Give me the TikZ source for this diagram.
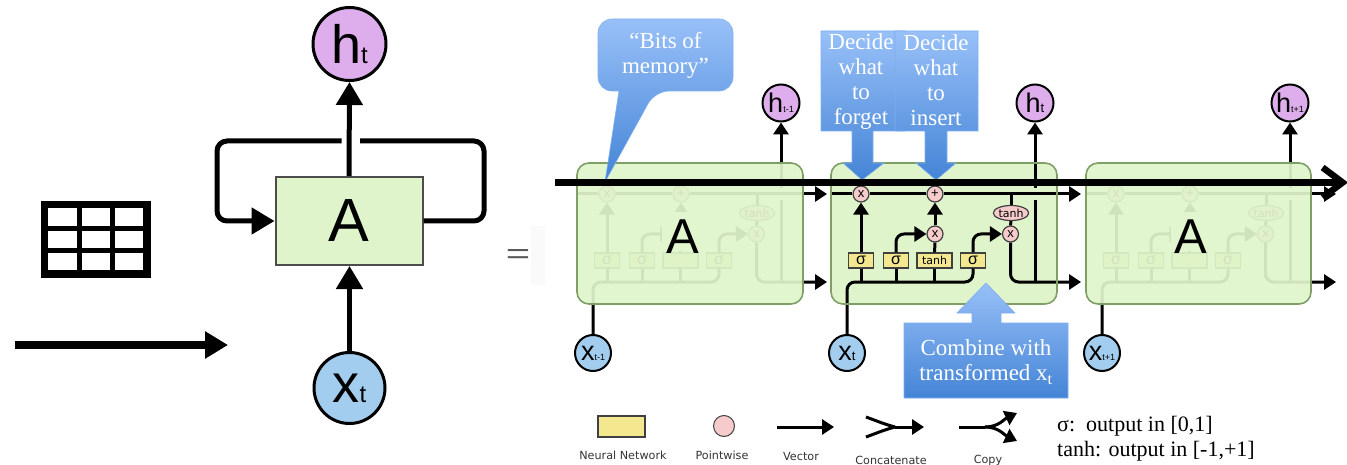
\documentclass[tikz,border=0pt]{standalone}
\usepackage{fontspec}
\setmainfont{Liberation Serif}
\setsansfont{Liberation Sans}
\newfontfamily\legendfont{DejaVu Sans}
\usetikzlibrary{arrows.meta,shapes.geometric}
\definecolor{cellgreen}{HTML}{DFF4CB}
\definecolor{celledge}{HTML}{7F9F67}
\definecolor{circpurple}{HTML}{DDAEEB}
\definecolor{circblue}{HTML}{A3CDEE}
\definecolor{layeryellow}{HTML}{F3E88F}
\definecolor{oppink}{HTML}{F6CBCB}
\definecolor{calltop}{HTML}{98C0F8}
\definecolor{callbot}{HTML}{4484D6}
\newcommand{\symlabel}[4]{\fontsize{#1}{#1}\selectfont #3\fontsize{#2}{#2}\selectfont #4}
\tikzset{
	wire/.style={line width=3pt,rounded corners=8pt},
	wirehead/.style={wire,-{Triangle[length=12pt,width=15pt]}},
	thick wire/.style={line width=5pt,rounded corners=10pt},
	bighead/.style={-{Triangle[length=23pt,width=26pt]}},
	symcirc/.style={circle,draw,line width=2pt,inner sep=0pt,font=\sffamily},
	layerbox/.style={rectangle,draw=black!75,line width=1.2pt,fill=layeryellow,inner sep=0pt,minimum height=15pt,font=\sffamily\fontsize{16}{16}\selectfont},
	opcirc/.style={circle,draw=black!75,line width=1.2pt,fill=oppink,inner sep=0pt,minimum size=16pt,font=\sffamily\fontsize{13}{13}\selectfont},
	cellbox/.style={draw=celledge,line width=1.6pt,rounded corners=12pt},
	callout/.style={top color=calltop,bottom color=callbot,draw=calltop!70!callbot,line width=.6pt},
	calltext/.style={text=white,align=center,inner sep=0pt,font=\fontsize{23}{25}\selectfont},
	legendtext/.style={inner sep=0pt,align=center,text=black!80,font=\legendfont\fontsize{11.2}{16}\selectfont},
	notetext/.style={inner sep=0pt,anchor=west,font=\fontsize{22}{22}\selectfont},
}
\begin{document}
\begin{tikzpicture}[x=1pt,y=-1pt]
	\useasboundingbox (0,0) rectangle (1347,465);
	% table and arrow on the far left
	\draw[line width=7.5pt] (44.3,204.7) rectangle (147.2,273.8);
	\draw[line width=5pt] (79.2,204) -- (79.2,274) (112.3,204) -- (112.3,274) (44,228.3) -- (147,228.3) (44,250.3) -- (147,250.3);
	\coordinate (seqL) at (15,345);
	\coordinate (seqR) at (228,345);
	\draw[line width=8pt,bighead] (seqL) -- (seqR);
	% rolled up cell
	\node[rectangle,draw=black!70,line width=2pt,fill=cellgreen,minimum width=147pt,minimum height=88pt,inner sep=0pt,font=\sffamily\fontsize{61}{61}\selectfont] (rollA) at (349,221) {A};
	\node[symcirc,line width=3pt,fill=circpurple,minimum size=73pt] (rollh) at (349.5,44) {\symlabel{54}{24}{h}{t}};
	\node[symcirc,line width=3pt,fill=circblue,minimum size=71pt] (rollx) at (349.5,388) {\symlabel{54}{24}{x}{t}};
	\draw[line width=5pt,bighead] (rollA.north) -- (rollh.south);
	\draw[line width=5pt,bighead] (rollx.north) -- (rollx.north |- rollA.south);
	\coordinate (loopR) at (360,141);
	\coordinate (loopL) at (341.5,141);
	\draw[thick wire] (rollA.east) -| (484,141) -- (loopR);
	\draw[thick wire,bighead] (loopL) -- (217,141) |- (rollA.west);
	\fill[black!2] (531,226) rectangle (545,285);
	\node[inner sep=0pt,text=black!65,font=\sffamily\fontsize{38}{38}\selectfont] (equals) at (518,256.5) {\scalebox{1.1}[.75]{=}};
	% the three cells, side ones get covered below
	\fill[cellgreen] (831,163) [rounded corners=12pt] rectangle (1057,304);
	\foreach \i/\dx/\sub in {1/-254/t-1,2/0/t,3/255/t+1}{
		\begin{scope}[xshift=\dx pt]
			\node[symcirc,fill=circpurple,minimum size=37pt] (h\i) at (1035,103) {\symlabel{27}{\ifnum\i=2 13\else 9\fi}{h}{\sub}};
			\node[symcirc,fill=circblue,minimum size=36pt] (x\i) at (847,353) {\symlabel{27}{\ifnum\i=2 13\else 9\fi}{x}{\sub}};
			\node[layerbox,minimum width=25pt] (sa\i) at (861,260.5) {σ};
			\node[layerbox,minimum width=25pt] (sb\i) at (896,260.5) {σ};
			\node[layerbox,minimum width=35pt,font=\legendfont\fontsize{11}{11}\selectfont] (tn\i) at (934.5,260.5) {\ifnum\i=2 tanh\fi};
			\node[layerbox,minimum width=25pt] (sc\i) at (973,260.5) {σ};
			\node[opcirc] (mf\i) at (861,194) {x};
			\node[opcirc] (pl\i) at (935,194) {+};
			\node[opcirc] (mb\i) at (935,234) {\ifnum\i=2 x\fi};
			\node[opcirc] (mc\i) at (1010.5,234) {x};
			\node[ellipse,draw=black!75,line width=1.2pt,fill=oppink,inner sep=0pt,minimum width=35pt,minimum height=15pt,font=\legendfont\fontsize{11}{11}\selectfont] (te\i) at (1011,213) {tanh};
			\coordinate (topin\i) at (831,194);
			\coordinate (topout\i) at (1081,194);
			\coordinate (botout\i) at (1081,282);
			\coordinate (bus\i) at (973,282);
			\coordinate (gapa\i) at (1035,200);
			\coordinate (gapb\i) at (1035,188);
			% wires of the cell
			\draw[wire] (topin\i) -- (mf\i);
			\draw[wire] (mf\i) -- (pl\i);
			\draw[wirehead] (pl\i) -- (topout\i);
			\draw[wire] (te\i.north) -- (te\i.north |- topin\i);
			\draw[wire] (te\i.south) -- (mc\i.north);
			\draw[wire] (x\i.north) |- (bus\i) -- (sc\i.south);
			\draw[wire] (sa\i.south |- bus\i) -- (sa\i.south);
			\draw[wire] (sb\i.south |- bus\i) -- (sb\i.south);
			\draw[wire] (tn\i.south |- bus\i) -- (tn\i.south);
			\draw[wirehead] (sa\i) -- (mf\i);
			\draw[wirehead] (sb\i.north) |- (mb\i.west);
			\draw[wirehead] (sc\i.north) |- (mc\i.west);
			\draw[wire] (tn\i) -- (mb\i);
			\draw[wirehead] (mb\i) -- (pl\i);
			\draw[wirehead] (mc\i.south) |- (botout\i);
			\draw[wire] (gapa\i) -- (gapa\i |- botout\i);
			\draw[wirehead] (gapb\i) -- (h\i.south);
		\end{scope}
	}
	\draw[cellbox,fill=cellgreen,fill opacity=.93] (577,163) rectangle (803,304);
	\draw[cellbox] (831,163) rectangle (1057,304);
	\draw[cellbox,fill=cellgreen,fill opacity=.93] (1086,163) rectangle (1311,304);
	\fill[cellgreen!93!white] (662,212) rectangle (704,251);
	\fill[cellgreen!93!white] (1171,212) rectangle (1213,251);
	\node[inner sep=0pt,font=\sffamily\fontsize{49}{49}\selectfont] (capA) at (683,237) {A};
	\node[inner sep=0pt,font=\sffamily\fontsize{49}{49}\selectfont] (capB) at (1191,237) {A};
	% callouts
	\shade[callout,rounded corners=14pt] (598,19) -- (733,19) -- (733,91) -- (655,91) [sharp corners] -- (605,182) -- (619,91) [rounded corners=14pt] -- (598,91) -- cycle;
	\node[calltext] (bits) at (665.5,55) {“Bits of\\memory”};
	\shade[callout] (821,31) -- (905,31) -- (905,131) -- (873,131) -- (873,163) -- (884,163) -- (862,180) -- (843,163) -- (852,163) -- (852,131) -- (821,131) -- cycle;
	\node[calltext] (forget) at (861,82) {Decide\\what\\to\\forget};
	\shade[callout] (895,31) -- (978,31) -- (978,131) -- (947,131) -- (947,163) -- (956,163) -- (936,180) -- (916,163) -- (925,163) -- (925,131) -- (895,131) -- cycle;
	\node[calltext] (insert) at (936,80.5) {Decide\\what\\to\\insert};
	\shade[callout] (986,283) -- (1015,313) -- (1001,313) -- (1001,323) -- (1068,323) -- (1068,398) -- (904,398) -- (904,323) -- (972,323) -- (972,313) -- (957,313) -- cycle;
	\node[calltext] (combine) at (986,362) {Combine with\\transformed x\textsubscript{t}};
	% time axis over everything
	\coordinate (timeL) at (555,182.5);
	\coordinate (timeR) at (1348,182.5);
	\draw[line width=6.5pt,-{Straight Barb[length=20pt,width=30pt]}] (timeL) -- (timeR);
	% legend
	\node[rectangle,draw=black!75,line width=1.2pt,fill=layeryellow,minimum width=47pt,minimum height=21pt,inner sep=0pt] (lgbox) at (621.5,426.5) {};
	\node[circle,draw=black!75,line width=1pt,fill=oppink,minimum size=21pt,inner sep=0pt] (lgop) at (724,426) {};
	\coordinate (lgvl) at (777,427);
	\coordinate (lgvr) at (834,427);
	\draw[wirehead] (lgvl) -- (lgvr);
	\coordinate (lgca) at (866,417);
	\coordinate (lgcb) at (866,437);
	\coordinate (lgcm) at (895,427);
	\coordinate (lgcr) at (924,427);
	\draw[wire] (lgca) to[out=-20,in=165] (lgcm);
	\draw[wire] (lgcb) to[out=20,in=195] (lgcm);
	\draw[wirehead] (lgcm) -- (lgcr);
	\coordinate (lgpl) at (959,427);
	\coordinate (lgpm) at (985,427);
	\coordinate (lgpa) at (1017,413);
	\coordinate (lgpb) at (1017,441);
	\draw[wire] (lgpl) -- (lgpm);
	\draw[wirehead] (lgpm) to[out=0,in=205] (lgpa);
	\draw[wirehead] (lgpm) to[out=0,in=155] (lgpb);
	\node[legendtext] (lgboxt) at (623,464) {Neural Network\\Layer};
	\node[legendtext] (lgopt) at (722,464) {Pointwise\\Operation};
	\node[legendtext] (lgvt) at (801,464) {Vector\\Transfer};
	\node[legendtext] (lgct) at (891,460) {Concatenate};
	\node[legendtext] (lgpt) at (988,461) {Copy};
	\node[notetext] (notea) at (1057,426) {σ:\, output in [0,1]};
	\node[notetext] (noteb) at (1057,451) {tanh: output in [-1,+1]};
\end{tikzpicture}
\end{document}
